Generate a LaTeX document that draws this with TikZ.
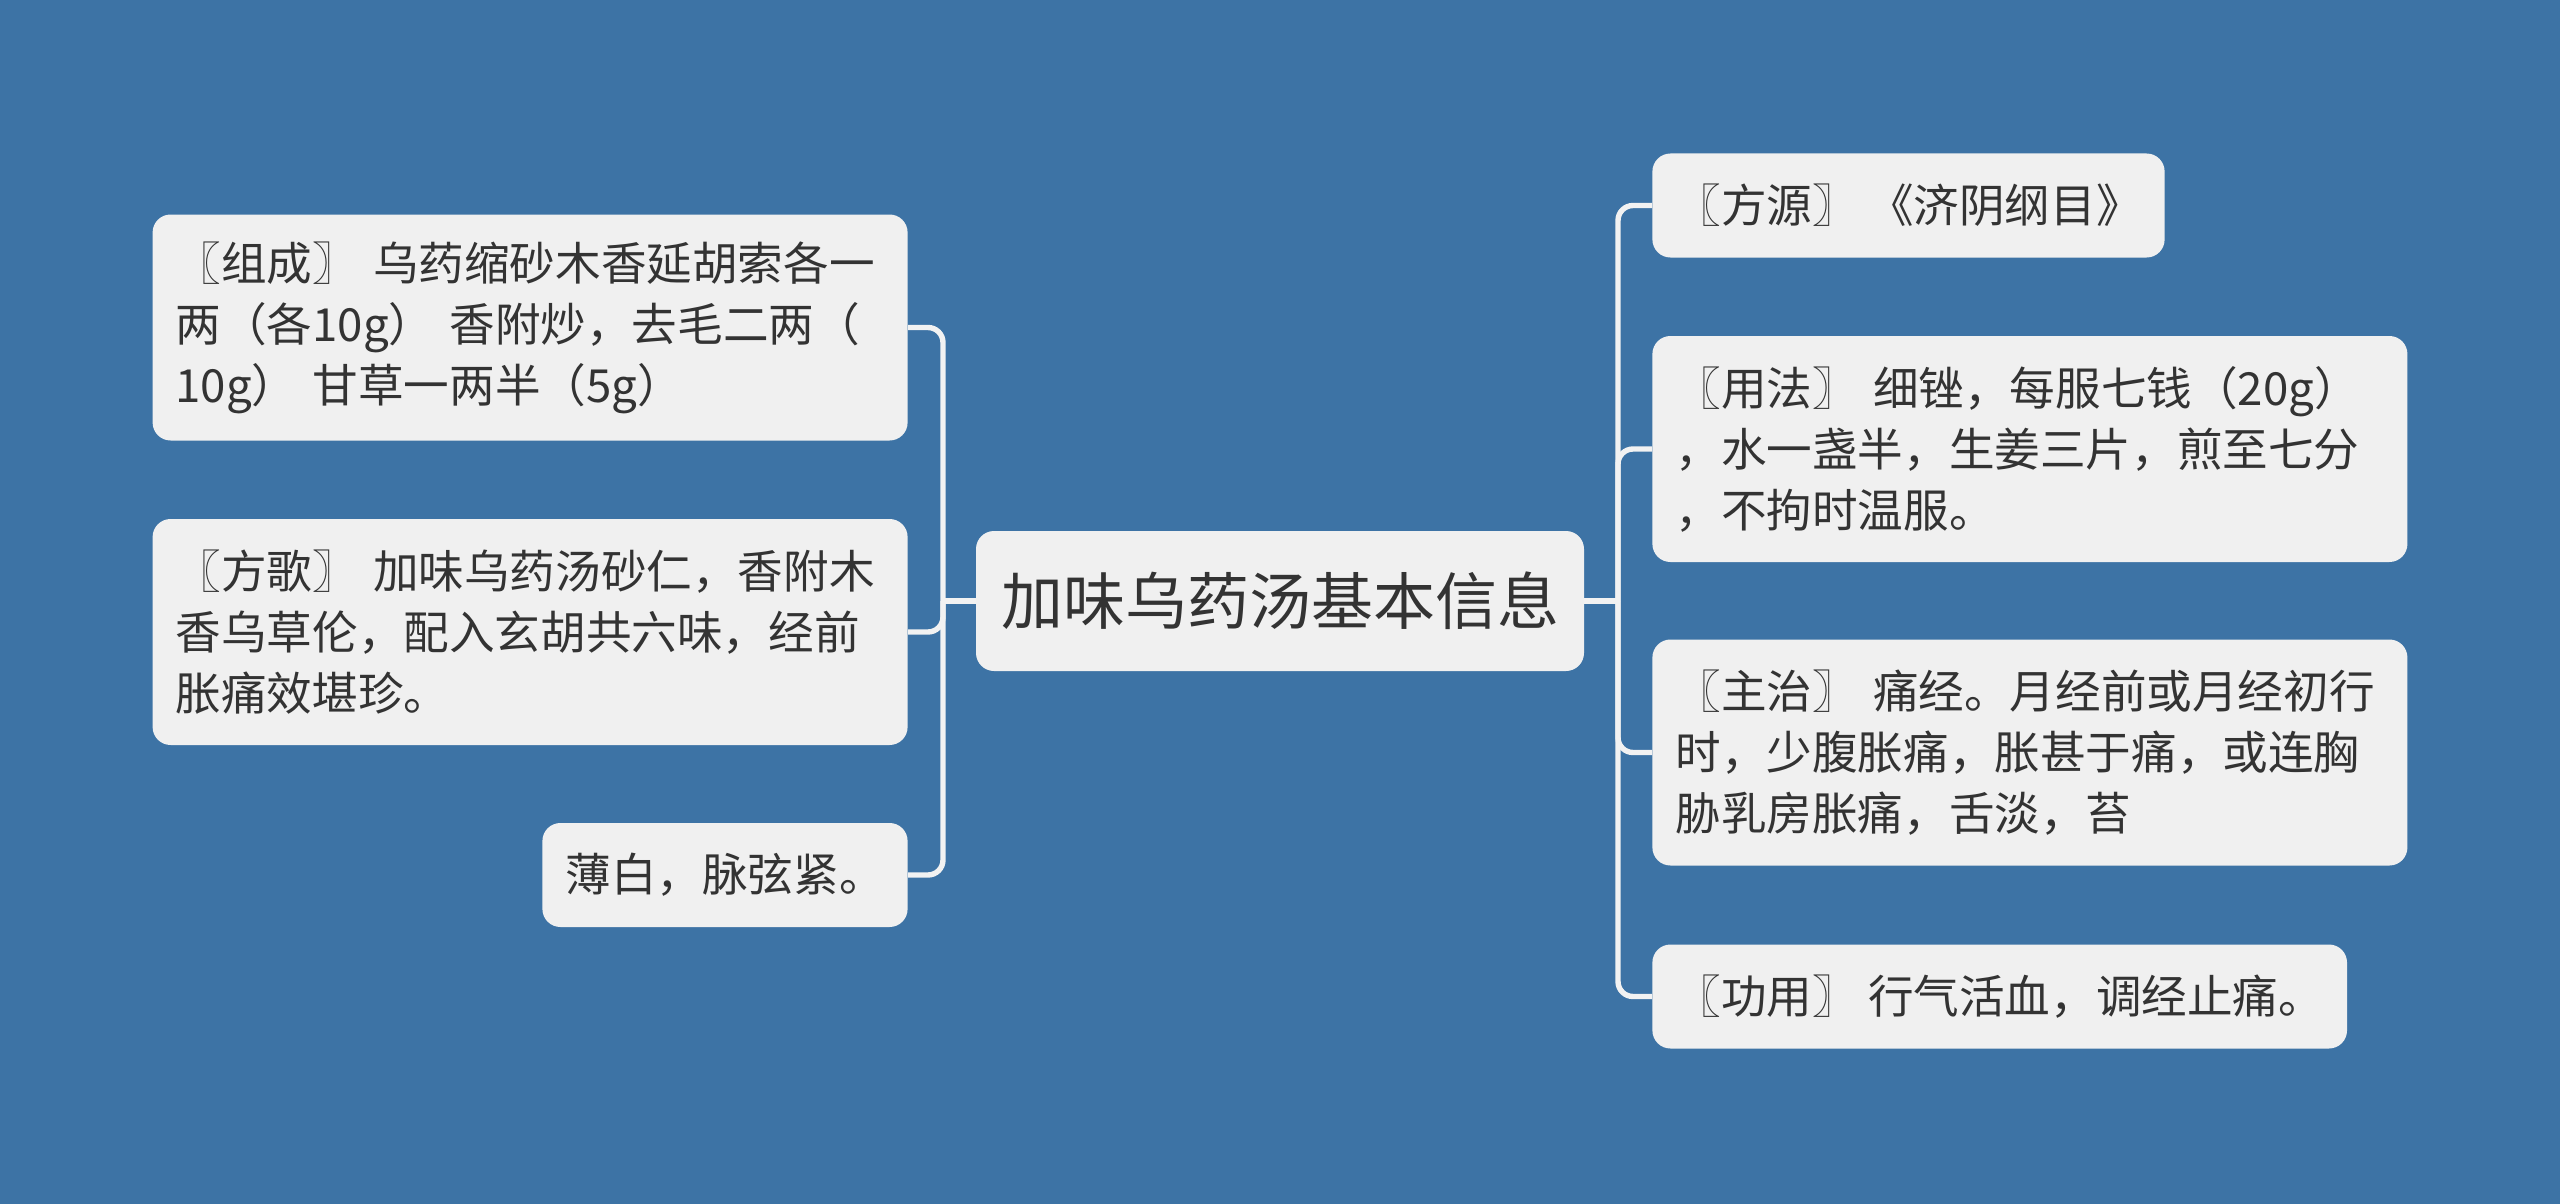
\documentclass[tikz,border=0pt]{standalone}
\usepackage{fontspec}
\setmainfont{Noto Sans CJK SC}
\usepackage{xcolor}
\definecolor{mapbg}{HTML}{3D73A5}
\definecolor{leafbg}{HTML}{F0F0F0}
\definecolor{leaftext}{HTML}{333333}
\definecolor{linkwhite}{HTML}{F2F2F2}

\begin{document}
\begin{tikzpicture}[x=0.5pt,y=-0.5pt,
    leaf/.style={fill=leafbg,text=leaftext,rounded corners=9pt,inner xsep=11.5pt,inner ysep=0pt,
      minimum height=52pt,align=left,font=\fontsize{22.8pt}{30.5pt}\selectfont},
    wide/.style={leaf,text width=354.5pt,minimum height=113pt},
    root/.style={fill=leafbg,text=leaftext,rounded corners=9pt,inner sep=0pt,
      minimum width=304pt,minimum height=70pt,font=\fontsize{31pt}{37pt}\selectfont},
    link/.style={draw=linkwhite,line width=2.7pt}]
  \fill[mapbg] (0,0) rectangle (2560,1204);

  \node[root] (root) at (1280,601) {加味乌药汤基本信息};

  % left side
  \node[wide,anchor=east] (zc) at (908,327.5) {〖组成〗 乌药缩砂木香延胡索各一\\两（各10g） 香附炒，去毛二两（\\10g） 甘草一两半（5g）};
  \node[wide,anchor=east] (fg) at (908,632) {〖方歌〗 加味乌药汤砂仁，香附木\\香乌草伦，配入玄胡共六味，经前\\胀痛效堪珍。};
  \node[leaf,anchor=east] (tai) at (908,875) {薄白，脉弦紧。};

  % right side
  \node[leaf,anchor=west] (fy) at (1652,205.5) {〖方源〗 《济阴纲目》};
  \node[wide,anchor=west] (yf) at (1652,449) {〖用法〗 细锉，每服七钱（20g）\\，水一盏半，生姜三片，煎至七分\\，不拘时温服。};
  \node[wide,anchor=west] (zz) at (1652,752.5) {〖主治〗 痛经。月经前或月经初行\\时，少腹胀痛，胀甚于痛，或连胸\\胁乳房胀痛，舌淡，苔};
  \node[leaf,anchor=west] (gy) at (1652,996.5) {〖功用〗 行气活血，调经止痛。};

  \coordinate (lj) at (943,601);
  \coordinate (rj) at (1618,601);
  \draw[link] (root.west) -- (lj);
  \draw[link] (root.east) -- (rj);
  \foreach \n in {zc,fg,tai} \draw[link,rounded corners=7.5pt] (lj) |- (\n.east);
  \foreach \n in {fy,yf,zz,gy} \draw[link,rounded corners=7.5pt] (rj) |- (\n.west);
\end{tikzpicture}
\end{document}
